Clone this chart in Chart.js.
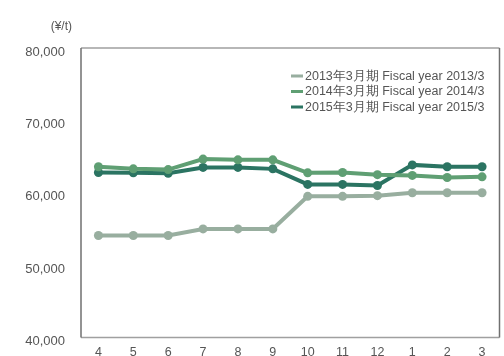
<!DOCTYPE html>
<html>
<head>
<meta charset="utf-8">
<script src="https://cdn.jsdelivr.net/npm/chart.js@4"></script>
<style>
  html, body { margin: 0; padding: 0; background: #fff; }
  #wrap { position: relative; width: 504px; height: 356px; }
</style>
</head>
<body>
<div id="wrap"><canvas id="priceChart" width="504" height="356"></canvas></div>
<script>
// months of the fiscal year (April -> March)
const months = ["4", "5", "6", "7", "8", "9", "10", "11", "12", "1", "2", "3"];

const seriesLabels = [
  "2013年3月期 Fiscal year 2013/3",
  "2014年3月期 Fiscal year 2014/3",
  "2015年3月期 Fiscal year 2015/3"
];

const fy2013 = [54100, 54100, 54100, 55000, 55000, 55000, 59500, 59500, 59600, 60000, 60000, 60000];
const fy2014 = [63600, 63300, 63200, 64650, 64550, 64550, 62750, 62800, 62500, 62400, 62100, 62200];
const fy2015 = [62800, 62750, 62700, 63500, 63500, 63300, 61150, 61150, 61000, 63850, 63600, 63600];

const yTicks = [40000, 50000, 60000, 70000, 80000];

const lineColors = ["#98ae9f", "#5f9f73", "#2b7462"];
const fontFamily = "'Liberation Sans', Arial, sans-serif";

function makeSet(label, data, color) {
  return {
    label: label,
    data: data,
    borderColor: color,
    backgroundColor: color,
    borderWidth: 4,
    pointRadius: 4.5,
    pointHoverRadius: 4.5,
    pointBorderWidth: 0,
    tension: 0
  };
}

// frame, unit caption and inset legend
const decorPlugin = {
  id: "decor",
  afterDraw(chart) {
    const { ctx, chartArea: a } = chart;
    ctx.save();
    ctx.lineWidth = 1.5;
    ctx.strokeStyle = "#a0a0a0";
    ctx.beginPath();
    ctx.moveTo(a.left, a.top);
    ctx.lineTo(a.right, a.top);
    ctx.moveTo(a.left, a.bottom);
    ctx.lineTo(a.right, a.bottom);
    ctx.stroke();
    ctx.strokeStyle = "#707070";
    ctx.beginPath();
    ctx.moveTo(a.left, a.top);
    ctx.lineTo(a.left, a.bottom);
    ctx.moveTo(a.right, a.top);
    ctx.lineTo(a.right, a.bottom);
    ctx.stroke();

    ctx.fillStyle = "#555";
    ctx.font = "12px " + fontFamily;
    ctx.textAlign = "right";
    ctx.textBaseline = "middle";
    ctx.fillText("(¥/t)", 72, 27);

    ctx.font = "12.5px " + fontFamily;
    ctx.textAlign = "left";
    chart.data.datasets.forEach((ds, i) => {
      const y = 76 + i * 15.5;
      ctx.fillStyle = ds.borderColor;
      ctx.fillRect(291, y - 1.5, 12, 3);
      ctx.fillStyle = "#555";
      ctx.fillText(ds.label, 305, y + 0.5);
    });
    ctx.restore();
  }
};

new Chart(document.getElementById("priceChart"), {
  type: "line",
  data: {
    labels: months,
    datasets: [
      makeSet(seriesLabels[0], fy2013, lineColors[0]),
      makeSet(seriesLabels[1], fy2014, lineColors[1]),
      makeSet(seriesLabels[2], fy2015, lineColors[2])
    ]
  },
  options: {
    responsive: false,
    animation: false,
    layout: { padding: { top: 48, right: -2, left: 0, bottom: 0 } },
    plugins: { legend: { display: false }, tooltip: { enabled: false } },
    scales: {
      x: {
        offset: true,
        grid: { display: false },
        border: { display: false },
        ticks: { color: "#555", font: { size: 12.5, family: fontFamily }, padding: 0, maxRotation: 0 },
        afterFit(axis) { axis.height = 18.5; }
      },
      y: {
        min: 40000,
        max: 80000,
        grid: { display: false },
        border: { display: false },
        afterBuildTicks(axis) { axis.ticks = yTicks.map(v => ({ value: v })); },
        ticks: {
          color: "#555",
          font: { size: 13, family: fontFamily },
          padding: 8,
          labelOffset: 4,
          callback: v => v.toLocaleString("en-US")
        },
        afterFit(axis) { axis.width = 81; }
      }
    }
  },
  plugins: [decorPlugin]
});
</script>
</body>
</html>
